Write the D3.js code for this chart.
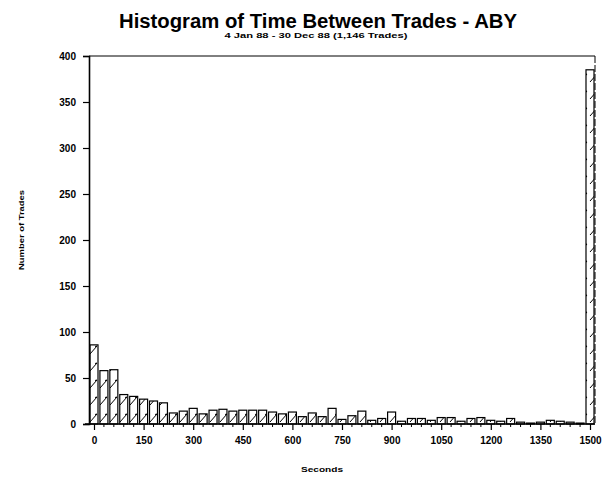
<!DOCTYPE html>
<html>
<head>
<meta charset="utf-8">
<script src="https://cdn.jsdelivr.net/npm/d3@7"></script>
<style>
  body { margin: 0; background: #fff; }
  text { font-family: "Liberation Sans", Arial, sans-serif; font-weight: bold; fill: #000; }
</style>
</head>
<body>
<svg class="chart"></svg>
<script>
var width = 611,
    height = 487;

// bin centres, seconds (30 s bins, last bin = 1500 s and over)
var seconds = d3.range(0, 1501, 30);
var counts = [86, 58, 59, 32, 30, 27, 25, 23, 12, 14,
              17, 11, 15, 16, 14, 15, 15, 15, 13, 11,
              13, 8, 12, 8, 17, 5, 9, 14, 4, 6,
              13, 3, 6, 6, 4, 7, 7, 3, 6, 7,
              4, 3, 6, 2, 1, 2, 4, 3, 2, 1,
              385];
var xTicks = [0, 150, 300, 450, 600, 750, 900, 1050, 1200, 1350, 1500];
var yTicks = [0, 50, 100, 150, 200, 250, 300, 350, 400];

var data = seconds.map((s, i) => ({ s: s, n: counts[i] }));

var svg = d3.select('.chart')
            .attr('width', width)
            .attr('height', height);

var x = d3.scaleLinear().domain([0, 1500]).range([94, 590]);
var y = d3.scaleLinear().domain([0, 400]).range([424, 56]);

var barW = 8;

// hatch pattern, sparse diagonal strokes like the plotter fill
var defs = svg.append('defs');
var pat = defs.append('pattern')
              .attr('id', 'hatch')
              .attr('patternUnits', 'userSpaceOnUse')
              .attr('width', 10)
              .attr('height', 17)
              .attr('x', -1)
              .attr('y', 424 % 17);
pat.append('path')
   .attr('d', 'M1,15 L8,7 L6,7.5')
   .attr('stroke', '#000')
   .attr('stroke-width', 1)
   .attr('fill', 'none');

// frame
svg.append('line')
   .attr('x1', 89).attr('x2', 595)
   .attr('y1', 56).attr('y2', 56)
   .attr('stroke', '#000').attr('stroke-width', 1);
svg.append('line')
   .attr('x1', 595).attr('x2', 595)
   .attr('y1', 56).attr('y2', 424)
   .attr('stroke', '#000').attr('stroke-width', 1)
   .attr('stroke-dasharray', '7,2');

// bars
svg.append('g')
   .selectAll('rect')
   .data(data)
   .join('rect')
   .attr('x', d => x(d.s) - barW / 2)
   .attr('y', d => y(d.n))
   .attr('width', barW)
   .attr('height', d => y(0) - y(d.n))
   .attr('fill', 'url(#hatch)')
   .attr('stroke', '#000')
   .attr('stroke-width', 1.2);

// axes
var xAxis = svg.append('g')
               .attr('transform', 'translate(0,424)')
               .call(d3.axisBottom(x).tickValues(xTicks).tickFormat(d3.format('d'))
                       .tickSize(6).tickPadding(7));
svg.append('g')
   .attr('transform', 'translate(0,424)')
   .selectAll('line')
   .data(seconds.filter(s => s % 150 !== 0))
   .join('line')
   .attr('x1', d => x(d)).attr('x2', d => x(d))
   .attr('y1', 0).attr('y2', 3)
   .attr('stroke', '#000');

var yAxis = svg.append('g')
               .attr('transform', 'translate(89,0)')
               .call(d3.axisLeft(y).tickValues(yTicks).tickSize(6).tickPadding(7));

[xAxis, yAxis].forEach(a => {
  a.select('.domain').attr('stroke-width', 1.6);
  a.selectAll('.tick line').attr('stroke-width', 1.2);
  a.selectAll('text')
   .style('font-size', '10px')
   .style('font-weight', 'bold')
   .style('font-family', '"Liberation Sans", Arial, sans-serif');
});
xAxis.select('.domain').attr('d', 'M85,0H595');

// titles
svg.append('text')
   .attr('x', 318).attr('y', 28)
   .attr('text-anchor', 'middle')
   .attr('textLength', 398)
   .attr('lengthAdjust', 'spacingAndGlyphs')
   .style('font-size', '20px')
   .text('Histogram of Time Between Trades - ABY');

svg.append('text')
   .attr('x', 316).attr('y', 38)
   .attr('text-anchor', 'middle')
   .attr('textLength', 183)
   .attr('lengthAdjust', 'spacingAndGlyphs')
   .style('font-size', '8px')
   .text('4 Jan 88 - 30 Dec 88 (1,146 Trades)');

svg.append('text')
   .attr('transform', 'translate(24,230) rotate(-90)')
   .attr('text-anchor', 'middle')
   .attr('textLength', 80)
   .attr('lengthAdjust', 'spacingAndGlyphs')
   .style('font-size', '8px')
   .text('Number of Trades');

svg.append('text')
   .attr('x', 322).attr('y', 472)
   .attr('text-anchor', 'middle')
   .attr('textLength', 42)
   .attr('lengthAdjust', 'spacingAndGlyphs')
   .style('font-size', '8px')
   .text('Seconds');
</script>
</body>
</html>
